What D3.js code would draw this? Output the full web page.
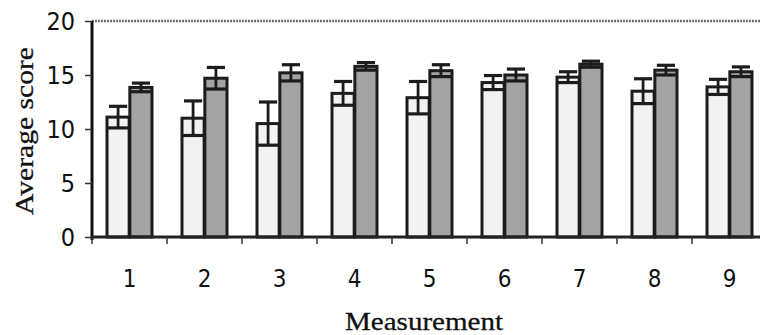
<!DOCTYPE html>
<html>
<head>
<meta charset="utf-8">
<title>Average score by measurement</title>
<script src="https://d3js.org/d3.v7.min.js"></script>
<style>
  html, body { margin: 0; padding: 0; background: #fff; }
  svg { display: block; }
</style>
</head>
<body>
<div id="chart"></div>
<script>
// values
var measurements = ['1', '2', '3', '4', '5', '6', '7', '8', '9'];
var lightMeans = [11.1, 11.0, 10.5, 13.3, 12.9, 14.3, 14.8, 13.5, 13.9];
var lightErr   = [1.0, 1.6, 2.0, 1.1, 1.5, 0.65, 0.5, 1.15, 0.7];
var darkMeans  = [13.85, 14.7, 15.2, 15.8, 15.4, 15.0, 16.0, 15.45, 15.3];
var darkErr    = [0.4, 1.0, 0.75, 0.35, 0.55, 0.55, 0.28, 0.45, 0.45];
var yTicks = [0, 5, 10, 15, 20];

var W = 760, H = 335;
var plotLeft = 92, plotTop = 21, plotBottom = 237, plotRight = 767;

var svg = d3.select('#chart').append('svg')
    .attr('width', W)
    .attr('height', H);

var x = d3.scaleBand().domain(measurements).range([plotLeft, plotRight]).padding(0);
var sub = d3.scaleBand().domain(['light', 'dark']).range([15, 60]).paddingInner(0.03);
var y = d3.scaleLinear().domain([0, 20]).range([plotBottom, plotTop]);

// dotted line at the top of the plot
svg.append('line')
    .attr('x1', plotLeft).attr('x2', W)
    .attr('y1', y(20)).attr('y2', y(20))
    .attr('stroke', '#707070')
    .attr('stroke-width', 2.4)
    .attr('stroke-dasharray', '2,1');

// build one row per bar
var rows = [];
measurements.forEach(function (m, i) {
    rows.push({m: m, k: 'light', v: lightMeans[i], e: lightErr[i]});
    rows.push({m: m, k: 'dark', v: darkMeans[i], e: darkErr[i]});
});

var fills = {light: '#f2f2f2', dark: '#a3a3a3'};
var ink = '#1c1c1c';

var bars = svg.append('g').selectAll('g')
    .data(rows)
    .enter().append('g')
    .attr('transform', function (d) { return 'translate(' + (x(d.m) + sub(d.k)) + ',0)'; });

bars.append('rect')
    .attr('x', 0)
    .attr('y', function (d) { return y(d.v); })
    .attr('width', sub.bandwidth())
    .attr('height', function (d) { return y(0) - y(d.v); })
    .attr('fill', function (d) { return fills[d.k]; })
    .attr('stroke', ink)
    .attr('stroke-width', 3);

// error bars
var bw = sub.bandwidth();
bars.append('line')
    .attr('x1', bw / 2).attr('x2', bw / 2)
    .attr('y1', function (d) { return y(d.v + d.e); })
    .attr('y2', function (d) { return y(d.v - d.e); })
    .attr('stroke', ink)
    .attr('stroke-width', 2.8);

bars.append('line')
    .attr('x1', 2).attr('x2', bw - 2)
    .attr('y1', function (d) { return y(d.v + d.e); })
    .attr('y2', function (d) { return y(d.v + d.e); })
    .attr('stroke', ink)
    .attr('stroke-width', 3.2);

bars.append('line')
    .attr('x1', 1).attr('x2', bw - 1)
    .attr('y1', function (d) { return y(d.v - d.e); })
    .attr('y2', function (d) { return y(d.v - d.e); })
    .attr('stroke', ink)
    .attr('stroke-width', 3.2);

// y axis
var yAxis = svg.append('g')
    .attr('transform', 'translate(' + plotLeft + ',0)')
    .call(d3.axisLeft(y).tickValues(yTicks).tickSize(7).tickPadding(10).tickFormat(d3.format('d')));
yAxis.select('.domain').attr('stroke', '#111').attr('stroke-width', 3)
    .attr('d', 'M0,' + y(20) + 'V' + (y(0) + 3));
yAxis.selectAll('.tick line').attr('stroke', '#333').attr('stroke-width', 1.5);
yAxis.selectAll('.tick text')
    .attr('font-family', '"DejaVu Sans Condensed", "DejaVu Sans", sans-serif')
    .attr('font-size', 25)
    .attr('fill', '#111');

// x axis
var xAxis = svg.append('g')
    .attr('transform', 'translate(0,' + plotBottom + ')')
    .call(d3.axisBottom(x).tickSize(0).tickPadding(33));
xAxis.select('.domain').attr('stroke', '#222').attr('stroke-width', 2.8)
    .attr('d', 'M' + plotLeft + ',0H' + W);
xAxis.selectAll('.tick text')
    .attr('font-family', '"DejaVu Sans Condensed", "DejaVu Sans", sans-serif')
    .attr('font-size', 24)
    .attr('fill', '#111');

// ticks between categories
svg.append('g').selectAll('line')
    .data(measurements)
    .enter().append('line')
    .attr('x1', function (d) { return x(d); })
    .attr('x2', function (d) { return x(d); })
    .attr('y1', plotBottom)
    .attr('y2', plotBottom + 7)
    .attr('stroke', '#333')
    .attr('stroke-width', 1.5);

// axis titles
svg.append('text')
    .attr('x', 424)
    .attr('y', 330)
    .attr('text-anchor', 'middle')
    .attr('font-family', '"Liberation Serif", "Times New Roman", serif')
    .attr('font-size', 26)
    .attr('textLength', 158)
    .attr('lengthAdjust', 'spacingAndGlyphs')
    .attr('fill', '#111')
    .attr('stroke', '#111')
    .attr('stroke-width', 0.3)
    .text('Measurement');

svg.append('text')
    .attr('transform', 'translate(33,131) rotate(-90)')
    .attr('text-anchor', 'middle')
    .attr('font-family', '"Liberation Serif", "Times New Roman", serif')
    .attr('font-size', 26)
    .attr('textLength', 168)
    .attr('lengthAdjust', 'spacingAndGlyphs')
    .attr('fill', '#111')
    .attr('stroke', '#111')
    .attr('stroke-width', 0.3)
    .text('Average score');
</script>
</body>
</html>
